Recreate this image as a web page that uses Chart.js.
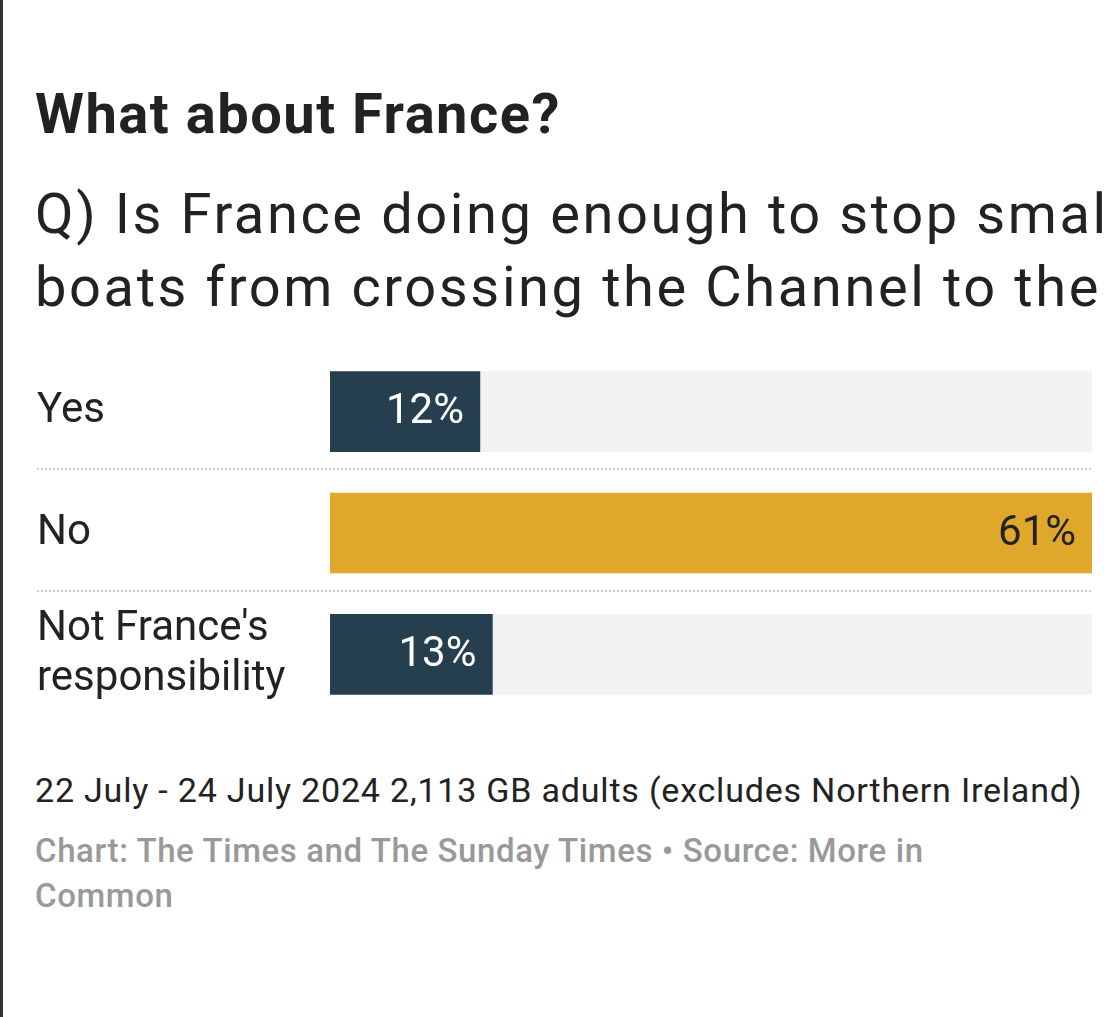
<!DOCTYPE html>
<html><head><meta charset="utf-8">
<script src="https://cdn.jsdelivr.net/npm/chart.js@4"></script>
<style>
body{margin:0;width:1104px;height:1017px;background:#fff;font-family:Roboto,sans-serif;position:relative;overflow:hidden}
#bl{position:absolute;left:0;top:0;width:3px;height:1017px;background:#333}
#t{position:absolute;left:35px;top:81px;font-size:56px;font-weight:700;color:#222;letter-spacing:1.5px}
#s{position:absolute;left:35px;top:178px;font-size:56px;line-height:73px;color:#222;letter-spacing:2.6px;white-space:nowrap}
#n{position:absolute;left:35px;top:770px;font-size:34px;color:#222;letter-spacing:0.8px;white-space:nowrap}
#c{position:absolute;left:35px;top:828px;font-size:33px;line-height:45px;color:#999;font-weight:500;width:960px;letter-spacing:0.6px}
#w{position:absolute;left:0;top:351px;width:1104px;height:364px}
</style></head><body>
<div id="bl"></div>
<div id="t">What about France?</div>
<div id="s">Q) Is France doing enough to stop small<br>boats from crossing the Channel to the UK?</div>
<div id="w"><canvas id="cv"></canvas></div>
<div id="n">22 July - 24 July 2024 2,113 GB adults (excludes Northern Ireland)</div>
<div id="c">Chart: The Times and The Sunday Times • Source: More in Common</div>
<script>
const categories=[["Yes"],["No"],["Not France's","responsibility"]];
const values=[12,61,13];
const valueLabels=["12%","61%","13%"];
const maxValue=61;
const barColors=["#263f4f","#e0a82a","#263f4f"];
const labelColors=["#fff","#222","#fff"];
const plug={id:'p',
 afterDatasetsDraw(ch){const ctx=ch.ctx,m=ch.getDatasetMeta(0);
  ctx.save();ctx.font='42px Roboto';ctx.textBaseline='middle';ctx.textAlign='right';
  m.data.forEach((b,i)=>{ctx.fillStyle=labelColors[i];ctx.fillText(valueLabels[i],b.x-16,b.y+1);});
  ctx.strokeStyle='#ccc';ctx.lineWidth=2;ctx.setLineDash([2,2]);
  for(let i=0;i<m.data.length-1;i++){const yy=Math.round((m.data[i].y+m.data[i+1].y)/2)-3;
   ctx.beginPath();ctx.moveTo(37,yy);ctx.lineTo(ch.chartArea.right,yy);ctx.stroke();}
  ctx.restore();}};
new Chart(document.getElementById('cv'),{type:'bar',
 data:{labels:categories,datasets:[
  {data:values,backgroundColor:barColors,barThickness:80,grouped:false,order:0},
  {data:values.map(()=>maxValue),backgroundColor:'#f2f2f2',barThickness:80,grouped:false,order:1}]},
 options:{indexAxis:'y',responsive:true,maintainAspectRatio:false,animation:false,
  layout:{padding:{left:37,right:12,top:0,bottom:0}},
  plugins:{legend:{display:false},tooltip:{enabled:false}},
  scales:{x:{display:false,min:0,max:maxValue},
   y:{grid:{display:false},border:{display:false},
    ticks:{crossAlign:'far',color:'#222',font:{family:'Roboto',size:42,lineHeight:1.2},padding:0},
    afterFit(s){s.width=293;s.paddingTop=0;s.paddingBottom=0;}}}},
 plugins:[plug]});
</script></body></html>
